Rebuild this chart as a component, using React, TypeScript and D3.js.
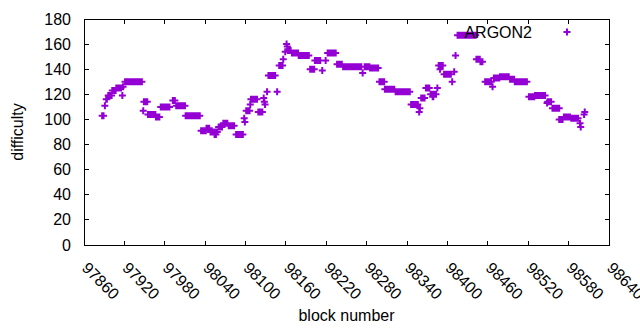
import * as d3 from 'd3';

const runs: [number, number, number][] = [
  [97887, 97889, 103], [97891, 97891, 111], [97893, 97894, 116], [97896, 97901, 119],
  [97902, 97907, 123], [97908, 97915, 125], [97917, 97917, 119], [97918, 97918, 126],
  [97921, 97946, 130], [97948, 97948, 107], [97949, 97954, 114], [97955, 97966, 104],
  [97967, 97972, 102], [97974, 97987, 110], [97992, 97995, 115], [97997, 98010, 111],
  [98011, 98032, 103], [98034, 98041, 91], [98042, 98046, 93], [98048, 98058, 90],
  [98054, 98056, 88], [98060, 98065, 94], [98067, 98073, 97], [98075, 98083, 95],
  [98086, 98096, 88], [98098, 98098, 101], [98099, 98099, 98], [98101, 98106, 107],
  [98107, 98107, 112], [98108, 98117, 116], [98119, 98125, 106], [98127, 98127, 117],
  [98128, 98128, 114], [98129, 98129, 112], [98132, 98132, 122], [98134, 98144, 135],
  [98147, 98147, 122], [98150, 98155, 143], [98156, 98156, 148], [98159, 98159, 154],
  [98161, 98161, 160], [98162, 98162, 158], [98163, 98167, 155], [98169, 98178, 153],
  [98179, 98194, 151], [98196, 98202, 140], [98203, 98211, 147], [98214, 98214, 139],
  [98219, 98219, 147], [98222, 98234, 153], [98236, 98243, 144], [98245, 98272, 142],
  [98274, 98274, 137], [98277, 98284, 142], [98285, 98297, 141], [98299, 98306, 130],
  [98307, 98321, 124], [98323, 98344, 122], [98346, 98356, 112], [98358, 98358, 106],
  [98359, 98359, 109], [98361, 98366, 117], [98368, 98373, 125], [98375, 98383, 120],
  [98378, 98379, 118], [98385, 98385, 125], [98387, 98393, 143], [98389, 98389, 140],
  [98395, 98405, 136], [98407, 98407, 130], [98410, 98410, 138], [98412, 98412, 151],
  [98415, 98442, 167], [98443, 98448, 148], [98449, 98452, 146], [98456, 98465, 130],
  [98467, 98467, 126], [98469, 98477, 133], [98478, 98491, 134], [98493, 98499, 132],
  [98500, 98518, 130], [98521, 98529, 118], [98530, 98545, 119], [98548, 98548, 113],
  [98549, 98554, 114], [98556, 98566, 109], [98566, 98571, 100], [98573, 98582, 102],
  [98584, 98594, 101], [98597, 98597, 97], [98598, 98598, 94], [98603, 98603, 104],
  [98604, 98604, 106],
];

const xTicks = [97860, 97920, 97980, 98040, 98100, 98160, 98220, 98280, 98340, 98400, 98460, 98520, 98580, 98640];
const yTicks = [0, 20, 40, 60, 80, 100, 120, 140, 160, 180];
const seriesName = 'ARGON2';

const W = 640;
const H = 330;
const plot = { left: 84, right: 609, top: 19, bottom: 245 };
const color = '#9400d3';
const font = '"Liberation Sans", Arial, sans-serif';

function plusPath(cx: number, cy: number, r = 3.5) {
  return `M${cx - r},${cy}h${2 * r}M${cx},${cy - r}v${2 * r}`;
}

export default function App() {
  const x = d3.scaleLinear().domain([97860, 98640]).range([plot.left, plot.right]);
  const y = d3.scaleLinear().domain([0, 180]).range([plot.bottom, plot.top]);

  const points = runs.flatMap(([a, b, v]) => d3.range(a, b + 1).map((block) => ({ block, v })));
  const markers = points.map((p) => plusPath(x(p.block), y(p.v))).join('');
  const tl = 4.5;

  return (
    <svg width={W} height={H} style={{ position: 'fixed', left: 0, top: 0, background: '#fff' }} fontFamily={font}>
      <rect width={W} height={H} fill="#fff" />
      <path d={markers} stroke={color} strokeWidth={2} fill="none" />

      {/* ticks, mirrored on all sides */}
      <g stroke="#000" strokeWidth={1} shapeRendering="crispEdges">
        {yTicks.map((t) => (
          <g key={`y${t}`}>
            <line x1={plot.left} x2={plot.left + tl} y1={y(t)} y2={y(t)} />
            <line x1={plot.right} x2={plot.right - tl} y1={y(t)} y2={y(t)} />
          </g>
        ))}
        {xTicks.map((t) => (
          <g key={`x${t}`}>
            <line x1={x(t)} x2={x(t)} y1={plot.bottom} y2={plot.bottom - tl} />
            <line x1={x(t)} x2={x(t)} y1={plot.top} y2={plot.top + tl} />
          </g>
        ))}
        <rect x={plot.left} y={plot.top} width={plot.right - plot.left} height={plot.bottom - plot.top} fill="none" />
      </g>

      <g fontSize={16} fill="#000">
        {yTicks.map((t) => (
          <text key={`yl${t}`} x={plot.left - 13} y={y(t) + 5.5} textAnchor="end">{t}</text>
        ))}
        {xTicks.map((t) => (
          <text key={`xl${t}`} transform={`translate(${x(t) - 3},${plot.bottom + 24}) rotate(45)`}>{t}</text>
        ))}
        <text transform={`translate(23,${(plot.top + plot.bottom) / 2}) rotate(-90)`} textAnchor="middle">difficulty</text>
        <text x={(plot.left + plot.right) / 2} y={321} textAnchor="middle">block number</text>
        <text x={532} y={38} textAnchor="end">{seriesName}</text>
      </g>
      <path d={plusPath(567, 32)} stroke={color} strokeWidth={2} fill="none" />
    </svg>
  );
}
